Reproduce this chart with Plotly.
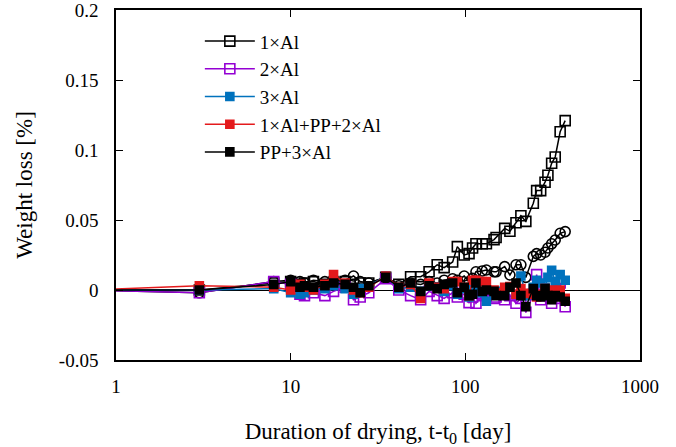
import plotly.graph_objects as go

days = [0.7, 3, 8, 10, 11.3, 12, 13.5, 15.7, 17.6, 20.5, 22.9, 25, 28, 35, 41.6, 48.6,
        55.5, 62, 69, 75.6, 84.6, 90, 98.5, 105, 110, 115, 125, 132, 146, 150, 168, 180,
        195, 208, 222, 245, 256, 270, 286, 297, 312, 327, 349, 373]

al1 = [0, 0.000, 0.005, 0.006, 0.004, 0.005, 0.006, 0.004, 0.005, 0.006, 0.004, 0.005,
       0.005, 0.009, 0.004, 0.0095, 0.0095, 0.013, 0.018, 0.016, 0.020, 0.031, 0.025, 0.026,
       0.030, 0.033, 0.033, 0.033, 0.036, 0.0375, 0.044, 0.042, 0.048, 0.053, 0.049, 0.062,
       0.071, 0.071, 0.077, 0.082, 0.0905, 0.095, 0.113, 0.121]

circ = [0, -0.002, 0.006, 0.007, 0.006, 0.005, 0.007, 0.006, 0.008, 0.007, 0.010, 0.006,
        0.005, 0.009, 0.003, 0.005, 0.004, 0.006, 0.005, 0.007, 0.008, 0.007, 0.010, 0.006,
        0.0083, 0.013, 0.0136, 0.0143, 0.013, 0.013, 0.0167, 0.0107, 0.018, 0.018, 0.009,
        0.024, 0.026, 0.025, 0.027, 0.030, 0.033, 0.0357, 0.0405, 0.0417]

al2 = [0, -0.002, 0.006, 0.004, -0.003, -0.004, -0.002, -0.004, -0.001, 0.002, -0.007,
       -0.005, -0.002, 0.008, 0.000, -0.004, -0.007, -0.001, -0.004, -0.006, -0.002, -0.005,
       -0.003, -0.009, -0.005, -0.0095, -0.004, -0.003, -0.006, -0.005, -0.007, -0.004,
       -0.0095, -0.006, -0.016, -0.003, 0.011, -0.007, -0.004, 0.003, -0.0095, -0.006,
       0.005, -0.012]

al3 = [0, 0.000, 0.001, -0.002, -0.003, -0.002, 0.000, 0.001, 0.003, 0.001, -0.003, 0.001,
       0.003, 0.010, 0.001, 0.002, -0.001, 0.003, 0.002, -0.001, 0.003, -0.003, 0.001,
       -0.005, 0.002, 0.003, -0.002, -0.008, -0.003, -0.001, 0.000, 0.002, -0.003, 0.010,
       -0.004, 0.002, 0.007, 0.005, 0.002, 0.009, 0.014, 0.006, 0.011, 0.007]

al1pp2 = [0, 0.003, 0.002, 0.000, 0.004, 0.002, 0.000, 0.004, 0.011, 0.005, 0.000, -0.002,
          0.002, 0.010, 0.002, 0.004, -0.006, 0.005, 0.002, 0.001, 0.006, 0.006, 0.002,
          -0.004, 0.007, 0.007, 0.006, 0.006, 0.000, -0.002, 0.002, 0.0024, -0.003, 0.001,
          -0.0024, -0.003, -0.005, -0.003, 0.001, -0.002, 0.000, -0.004, 0.000, -0.006]

pp3 = [0, 0.000, 0.004, 0.006, 0.002, 0.003, 0.002, 0.003, 0.005, 0.004, 0.002, -0.002,
       0.003, 0.009, 0.002, 0.005, -0.001, 0.003, 0.001, 0.004, 0.005, -0.002, 0.002,
       -0.004, -0.003, 0.005, -0.001, 0.000, -0.001, -0.004, -0.004, 0.002, 0.005, -0.004,
       -0.012, 0.001, -0.004, -0.005, 0.001, -0.004, -0.007, -0.004, -0.005, -0.008]

x_ticks = [1, 10, 100, 1000]
y_ticks = [-0.05, 0, 0.05, 0.1, 0.15, 0.2]
y_tick_text = ["-0.05", "0", "0.05", "0.1", "0.15", "0.2"]

FONT = "Liberation Serif, Times New Roman, DejaVu Serif, serif"

fig = go.Figure()

def add(y, name, color, symbol, size, show=True, lw=1.5, mlw=1.6):
    fig.add_trace(go.Scatter(
        x=days, y=y, name=name, mode="lines+markers", showlegend=show,
        line=dict(color=color, width=lw),
        marker=dict(symbol=symbol, size=size, color=color,
                    line=dict(color=color, width=mlw)),
    ))

add(al1, "1×Al", "black", "square-open", 10)
add(circ, "", "black", "circle-open", 10, show=False)
add(al2, "2×Al", "#9400d3", "square-open", 10)
add(al3, "3×Al", "#0072bd", "square", 8)
add(al1pp2, "1×Al+PP+2×Al", "#e41a1c", "square", 8)
add(pp3, "PP+3×Al", "black", "square", 8)

fig.update_layout(
    width=676, height=447,
    margin=dict(l=116, r=36, t=10, b=87),
    paper_bgcolor="white", plot_bgcolor="white",
    font=dict(family=FONT, size=19, color="black"),
    legend=dict(x=0.16, y=0.965, xanchor="left", yanchor="top",
                bgcolor="rgba(0,0,0,0)", font=dict(family=FONT, size=19),
                itemwidth=50),
    xaxis=dict(type="log", range=[0, 3], tickvals=x_ticks,
               ticktext=[str(v) for v in x_ticks], automargin=False,
               ticklabeloverflow="allow",
               ticks="inside", ticklen=7, tickcolor="black",
               showline=True, linecolor="black", linewidth=1.5, mirror="allticks",
               showgrid=False, zeroline=False, ticklabelstandoff=8,
               title=dict(text="Duration of drying, t-t<sub>0</sub> [day]", standoff=30)),
    yaxis=dict(range=[-0.05, 0.2], tickvals=y_ticks, ticktext=y_tick_text,
               automargin=False, ticklabeloverflow="allow",
               ticks="inside", ticklen=7, tickcolor="black",
               showline=True, linecolor="black", linewidth=1.5, mirror="allticks",
               showgrid=False, zeroline=True, zerolinecolor="black", zerolinewidth=1.2,
               ticklabelstandoff=12,
               title=dict(text="Weight loss [%]", standoff=20)),
)

fig.write_html("out.html")
